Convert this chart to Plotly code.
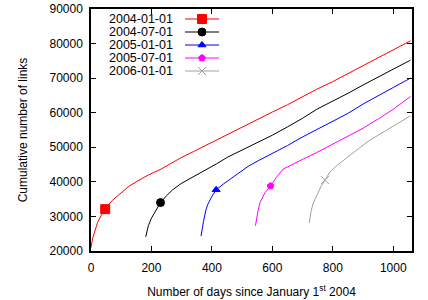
import plotly.graph_objects as go

# ---- data ----
series_names = ["2004-01-01", "2004-07-01", "2005-01-01", "2005-07-01", "2006-01-01"]
colors = ["#ff0000", "#000000", "#0000ff", "#ff00ff", "#a0a0a0"]
symbols = ["square", "circle", "triangle-up", "pentagon", "x-thin-open"]
msizes = [9, 8, 7, 7, 8]

red_x = [0, 2, 5, 10, 16, 22, 35, 47, 70, 99, 125, 155, 190, 232, 265, 298, 340, 376, 415, 453,
         500, 553, 600, 650, 700, 747, 800, 850, 900, 950, 1000, 1057]
red_y = [21000, 22400, 23500, 25000, 26800, 28300, 30500, 32100, 34600, 36900, 38700, 40300, 42000,
         43700, 45400, 47000, 48800, 50400, 52200, 53800, 55900, 58300, 60200, 62300, 64700, 66800,
         69000, 71200, 73600, 75900, 78200, 80800]

black_x = [181, 185, 190, 200, 210, 220, 230, 250, 270, 298, 340, 376, 415, 453, 500, 553, 600,
           650, 700, 747, 800, 850, 900, 950, 1000, 1057]
black_y = [24100, 25900, 27400, 29500, 30900, 32600, 34000, 36000, 37700, 39500, 41500, 43200,
           45200, 47200, 49200, 51600, 53500, 55900, 58400, 61000, 63300, 65600, 68000, 70400,
           72600, 75200]

blue_x = [364, 368, 372, 380, 386, 400, 414, 440, 486, 520, 553, 600, 650, 700, 747, 800, 850,
          900, 950, 1000, 1057]
blue_y = [24300, 26600, 28500, 31800, 33400, 35800, 37700, 39500, 42500, 44500, 46100, 48200,
          50500, 53000, 55200, 57600, 59800, 62500, 64800, 67300, 70000]

magenta_x = [544, 548, 552, 559, 575, 594, 615, 636, 670, 702, 747, 800, 857, 900, 950, 1000, 1057]
magenta_y = [27300, 29500, 31300, 34000, 36800, 38800, 41500, 43700, 45300, 46600, 48500, 50900,
             53400, 55500, 58200, 61000, 64700]

gray_x = [722, 725, 728, 735, 747, 760, 774, 790, 813, 850, 913, 950, 1000, 1057]
gray_y = [28100, 29900, 31500, 33800, 36000, 38500, 40500, 42800, 44700, 47200, 51500, 53500,
          56000, 59100]

# one highlighted point per series
marker_x = [47, 230, 414, 594, 774]
marker_y = [32100, 34000, 37700, 38800, 40500]

xs = [red_x, black_x, blue_x, magenta_x, gray_x]
ys = [red_y, black_y, blue_y, magenta_y, gray_y]

x_ticks = [0, 200, 400, 600, 800, 1000]
y_ticks = [20000, 30000, 40000, 50000, 60000, 70000, 80000, 90000]

# ---- layout constants (pixels) ----
W, H = 428, 300
ML, MR, MT, MB = 91, 16, 9, 49
PW, PH = W - ML - MR, H - MT - MB
FONT = "Liberation Sans, Arial, Helvetica, sans-serif"

fig = go.Figure()

for i in range(5):
    fig.add_trace(go.Scatter(x=xs[i], y=ys[i], mode="lines",
                             line=dict(color=colors[i], width=1), showlegend=False,
                             hoverinfo="skip"))
    fig.add_trace(go.Scatter(x=[marker_x[i]], y=[marker_y[i]], mode="markers",
                             marker=dict(symbol=symbols[i], size=msizes[i], color=colors[i],
                                         line=dict(color=colors[i], width=1)),
                             showlegend=False))

# ---- gnuplot-style key (text right, sample left) ----
def px_to_paper_x(px):
    return (px - ML) / PW

def px_to_paper_y(py):
    return (H - MB - py) / PH

key_rows = [19, 32, 45, 58, 71]
text_right = 175
line_l, line_r = 185, 219
annotations = []
for i in range(5):
    yy = px_to_paper_y(key_rows[i])
    annotations.append(dict(x=px_to_paper_x(text_right), y=yy, xref="paper", yref="paper",
                            text=series_names[i], showarrow=False, xanchor="right",
                            yanchor="middle", height=12,
                            font=dict(size=12.5, color="black", family=FONT)))
    fig.add_trace(go.Scatter(x=[px_to_paper_x(line_l), px_to_paper_x(line_r)], y=[yy, yy],
                             mode="lines", line=dict(color=colors[i], width=1),
                             xaxis="x2", yaxis="y2", showlegend=False, hoverinfo="skip"))
    fig.add_trace(go.Scatter(x=[px_to_paper_x((line_l + line_r) / 2)], y=[yy], mode="markers",
                             marker=dict(symbol=symbols[i], size=msizes[i], color=colors[i],
                                         line=dict(color=colors[i], width=1)),
                             xaxis="x2", yaxis="y2", showlegend=False, hoverinfo="skip"))

axis_common = dict(showgrid=False, zeroline=False, showline=True, linecolor="black",
                   linewidth=1.5, mirror="allticks", ticks="inside", ticklen=5,
                   tickcolor="black", tickwidth=1, automargin=False,
                   tickfont=dict(size=12, color="black", family=FONT))

fig.update_layout(
    width=W, height=H,
    margin=dict(l=ML, r=MR, t=MT, b=MB, autoexpand=False),
    paper_bgcolor="white", plot_bgcolor="white",
    font=dict(family=FONT, size=12, color="black"),
    showlegend=False,
    annotations=annotations,
    xaxis=dict(range=[0, 1062], tickvals=x_ticks, ticktext=[str(v) for v in x_ticks],
               title=dict(text="Number of days since January 1<sup>st</sup> 2004",
                          font=dict(size=12, family=FONT), standoff=13),
               ticklabelstandoff=5, **axis_common),
    yaxis=dict(range=[20000, 90000], tickvals=y_ticks, ticktext=[str(v) for v in y_ticks],
               title=dict(text="Cumulative number of links", font=dict(size=12, family=FONT),
                          standoff=19),
               ticklabelstandoff=4, **axis_common),
    xaxis2=dict(overlaying="x", range=[0, 1], visible=False, automargin=False),
    yaxis2=dict(overlaying="y", range=[0, 1], visible=False, automargin=False),
)

fig.write_html("out.html", config={"displayModeBar": False},
               post_script="document.body.style.margin='0';document.body.style.padding='0';")
